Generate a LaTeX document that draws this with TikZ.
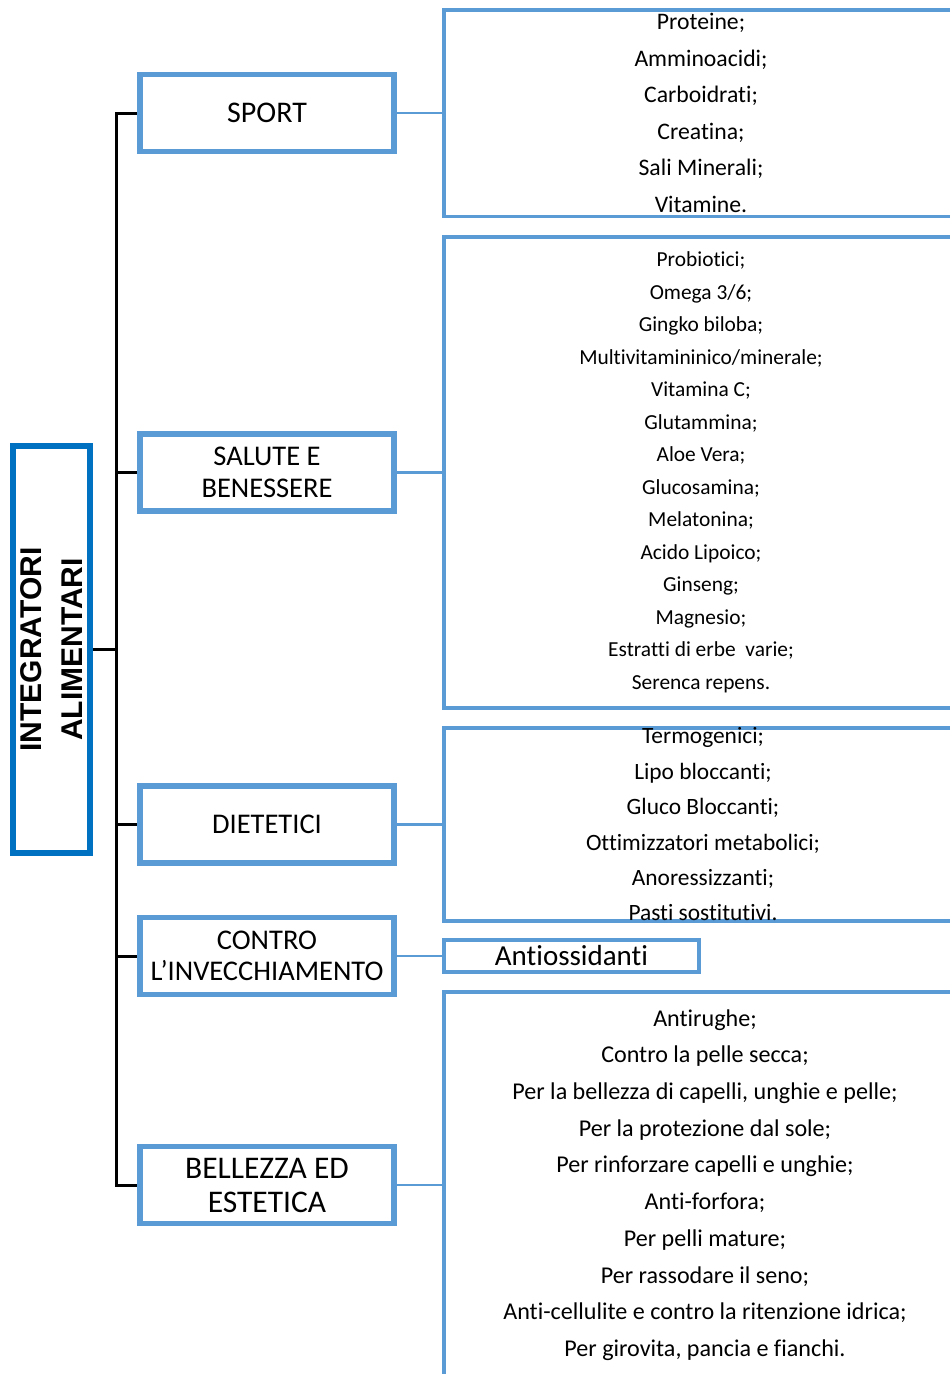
\documentclass[tikz,border=0pt]{standalone}
\usepackage{fontspec}
\setmainfont{Carlito}[Ligatures=CommonOff]
\newfontfamily\rootfont{Liberation Sans}
\usetikzlibrary{backgrounds}
\definecolor{accent}{HTML}{5B9BD5}
\definecolor{rootblue}{HTML}{0070C0}
\begin{document}
\begin{tikzpicture}[x=1pt,y=-1pt,
  rootbox/.style={draw=rootblue, line width=6pt, fill=white, rotate=90,
    minimum width=407pt, minimum height=77pt, inner sep=0pt, align=center,
    font=\rootfont\bfseries\fontsize{30}{41}\selectfont},
  catbox/.style={draw=accent, line width=5.5pt, fill=white,
    minimum width=254pt, minimum height=77pt, inner sep=0pt, align=center,
    font=\fontsize{28.5}{32}\selectfont},
  listbox/.style={draw=accent, line width=3.5pt, fill=white,
    minimum width=516pt, inner sep=0pt, align=center},
  trunk/.style={line width=3pt, black, line join=miter},
  link/.style={draw=accent, line width=2.5pt}]
\useasboundingbox (0,0) rectangle (950,1374);
\clip (0,0) rectangle (950,1374);

\node[rootbox] (root) at (51.5,649.5) {INTEGRATORI\\ALIMENTARI};

\node[catbox, font=\fontsize{30}{36}\selectfont] (sport) at (267,113) {SPORT};
\node[catbox] (salute) at (267,472.5) {SALUTE E\\BENESSERE};
\node[catbox] (diet) at (267,824.5) {DIETETICI};
\node[catbox, font=\fontsize{28.5}{31}\selectfont] (contro) at (267,956) {CONTRO\\L’INVECCHIAMENTO};
\node[catbox, font=\fontsize{31.5}{34}\selectfont] (bell) at (267,1185) {BELLEZZA ED\\ESTETICA};

\node[listbox, minimum width=514pt, minimum height=206.5pt, font=\fontsize{23.7}{36.6}\selectfont] (sportL) at (701,113)
  {Proteine;\\Amminoacidi;\\Carboidrati;\\Creatina;\\Sali Minerali;\\Vitamine.};
\node[listbox, minimum width=514pt, minimum height=471pt, font=\fontsize{21.4}{32.5}\selectfont] (saluteL) at (701,472.5)
  {Probiotici;\\Omega 3/6;\\Gingko biloba;\\Multivitamininico/minerale;\\Vitamina C;\\Glutammina;\\Aloe Vera;\\Glucosamina;\\Melatonina;\\Acido Lipoico;\\Ginseng;\\Magnesio;\\Estratti di erbe\ \ varie;\\Serenca repens.};
\node[listbox, minimum width=518pt, minimum height=193pt, font=\fontsize{23.4}{35.4}\selectfont] (dietL) at (703,824.5)
  {Termogenici;\\Lipo bloccanti;\\Gluco Bloccanti;\\Ottimizzatori metabolici;\\Anoressizzanti;\\Pasti sostitutivi.};
\node[listbox, minimum width=255pt, minimum height=32pt, font=\fontsize{29}{34}\selectfont] (contoL) at (571.5,956)
  {Antiossidanti};
\node[listbox, minimum width=522pt, minimum height=386pt, font=\fontsize{24.1}{36.7}\selectfont] (bellL) at (705,1185)
  {Antirughe;\\Contro la pelle secca;\\Per la bellezza di capelli, unghie e pelle;\\Per la protezione dal sole;\\Per rinforzare capelli e unghie;\\Anti-forfora;\\Per pelli mature;\\Per rassodare il seno;\\Anti-cellulite e contro la ritenzione idrica;\\Per girovita, pancia e fianchi.};

\coordinate (tk) at (116,649);
\begin{scope}[on background layer]
  \draw[trunk] (sport.west) -- (sport.west -| tk) -- (bell.west -| tk) -- (bell.west);
  \draw[trunk] (root.south) -- (root.south -| tk);
  \draw[trunk] (salute.west) -- (salute.west -| tk);
  \draw[trunk] (diet.west) -- (diet.west -| tk);
  \draw[trunk] (contro.west) -- (contro.west -| tk);
  \draw[link] (sport.east) -- (sportL.west);
  \draw[link] (salute.east) -- (saluteL.west);
  \draw[link] (diet.east) -- (dietL.west);
  \draw[link] (contro.east) -- (contoL.west);
  \draw[link] (bell.east) -- (bellL.west);
\end{scope}
\end{tikzpicture}
\end{document}
